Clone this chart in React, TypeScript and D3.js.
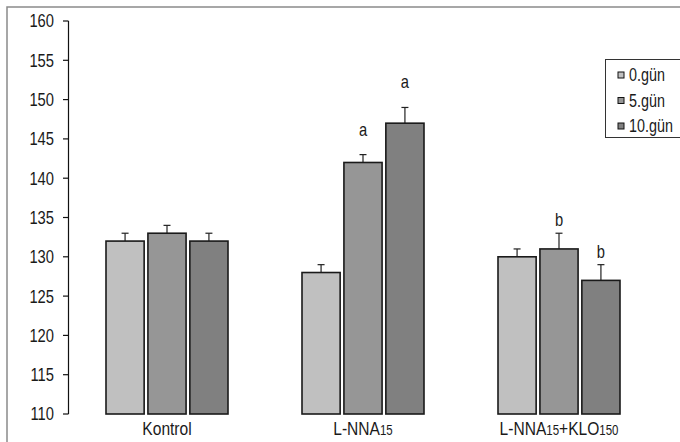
import * as d3 from "d3";
import type { ReactNode } from "react";

const groups = ["Kontrol", "L-NNA", "L-NNA+KLO"];
const series = ["0.gün", "5.gün", "10.gün"];
const values = [
  [132, 133, 132],
  [128, 142, 147],
  [130, 131, 127],
];
const errors = [
  [1, 1, 1],
  [1, 1, 2],
  [1, 2, 2],
];
const letters = [
  ["", "", ""],
  ["", "a", "a"],
  ["", "b", "b"],
];
const yTicks = [110, 115, 120, 125, 130, 135, 140, 145, 150, 155, 160];
const colors = ["#c0c0c0", "#969696", "#808080"];

const W = 680;
const H = 442;
const FONT = "'Liberation Sans', Arial, sans-serif";
const NARROW = 0.82; // fake Arial Narrow by squeezing Liberation Sans

// letters sit a bit differently above the whiskers (a has no ascender)
const letterLift: Record<string, number> = { a: 19, b: 7 };

function NText({
  x,
  y,
  anchor = "start",
  size = 18,
  dy,
  children,
}: {
  x: number;
  y: number;
  anchor?: "start" | "middle" | "end";
  size?: number;
  dy?: string;
  children: ReactNode;
}) {
  return (
    <text
      transform={`translate(${x},${y}) scale(${NARROW},1)`}
      textAnchor={anchor}
      fontSize={size}
      dy={dy}
      fill="#1a1a1a"
    >
      {children}
    </text>
  );
}

export default function App() {
  const x0 = d3.scaleBand<number>().domain(groups.map((_, i) => i)).range([69, 657]);
  const x1 = d3.scaleBand<number>().domain([0, 1, 2]).range([0, 122]).paddingInner(0.09);
  const y = d3.scaleLinear().domain([110, 160]).range([414, 21]);
  const groupOffset = (x0.bandwidth() - 122) / 2;

  const label = (i: number) => {
    if (i === 0) return <tspan>Kontrol</tspan>;
    if (i === 1)
      return (
        <>
          <tspan>L-NNA</tspan>
          <tspan fontSize={14}>15</tspan>
        </>
      );
    return (
      <>
        <tspan>L-NNA</tspan>
        <tspan fontSize={14}>15</tspan>
        <tspan>+KLO</tspan>
        <tspan fontSize={14}>150</tspan>
      </>
    );
  };

  return (
    <svg
      width={W}
      height={H}
      style={{ position: "absolute", left: 0, top: 0, background: "#fff" }}
      fontFamily={FONT}
    >
      {/* outer frame, runs off the right/bottom */}
      <rect x={7} y={7} width={W + 20} height={H + 20} fill="none" stroke="#8a8a8a" strokeWidth={1.5} />

      {/* y axis */}
      <line x1={68.5} x2={68.5} y1={y(160)} y2={y(110)} stroke="#111" strokeWidth={1.2} />
      {yTicks.map((t) => (
        <g key={t}>
          <line x1={63} x2={68.5} y1={y(t)} y2={y(t)} stroke="#111" strokeWidth={1.2} />
          <NText x={54} y={y(t)} dy="0.36em" anchor="end">
            {t}
          </NText>
        </g>
      ))}

      {/* bars */}
      {values.map((row, gi) => (
        <g key={gi} transform={`translate(${(x0(gi) ?? 0) + groupOffset},0)`}>
          {row.map((v, si) => {
            const bx = x1(si) ?? 0;
            const bw = x1.bandwidth();
            const cx = bx + bw / 2;
            const top = y(v + errors[gi][si]);
            const lt = letters[gi][si];
            return (
              <g key={si}>
                <line x1={cx} x2={cx} y1={y(v)} y2={top} stroke="#222" strokeWidth={1.2} />
                <line x1={cx - 3.5} x2={cx + 3.5} y1={top} y2={top} stroke="#222" strokeWidth={1.2} />
                <rect
                  x={bx}
                  y={y(v)}
                  width={bw}
                  height={y(110) - y(v)}
                  fill={colors[si]}
                  stroke="#1a1a1a"
                  strokeWidth={1.6}
                />
                {lt && (
                  <NText x={cx} y={top - letterLift[lt]} anchor="middle" size={18}>
                    {lt}
                  </NText>
                )}
              </g>
            );
          })}
        </g>
      ))}

      {/* category labels */}
      {groups.map((g, i) => (
        <NText key={g} x={(x0(i) ?? 0) + x0.bandwidth() / 2} y={435} anchor="middle" size={19}>
          {label(i)}
        </NText>
      ))}

      {/* legend */}
      <rect x={605.5} y={59.5} width={100} height={78} fill="#fff" stroke="#333" strokeWidth={1} />
      {series.map((s, i) => (
        <g key={s} transform={`translate(618,${75 + i * 25.5})`}>
          <rect x={0} y={-3} width={6} height={6} fill={colors[i]} stroke="#111" strokeWidth={1} />
          <NText x={11} y={0} dy="0.36em" size={17.5}>
            {s}
          </NText>
        </g>
      ))}
    </svg>
  );
}
